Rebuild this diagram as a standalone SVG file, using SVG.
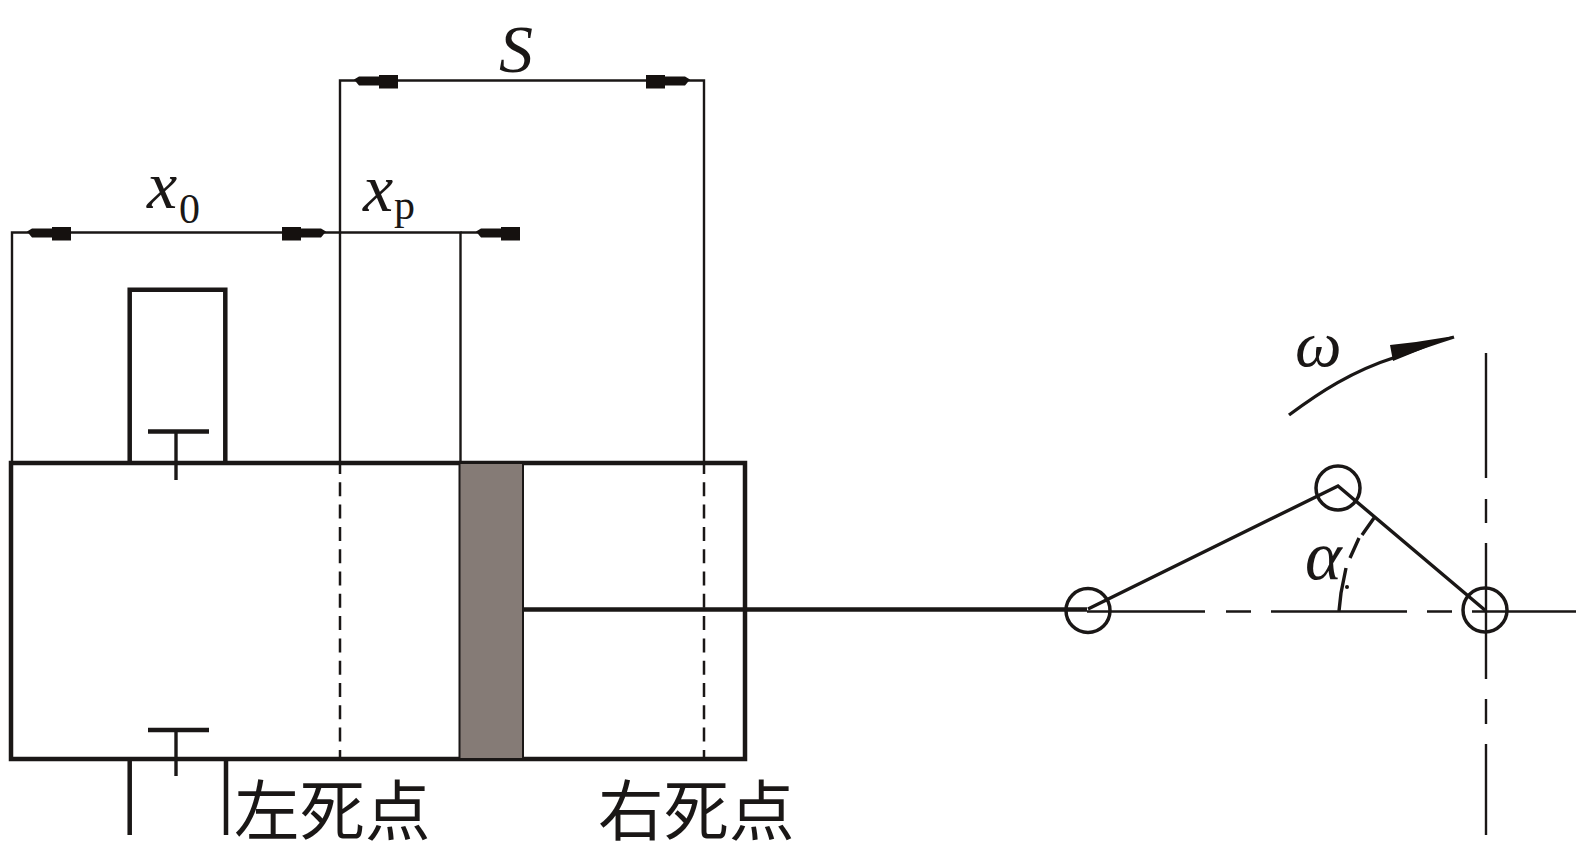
<svg xmlns="http://www.w3.org/2000/svg" width="1577" height="849" viewBox="0 0 1577 849">
<style>
.l{fill:none;stroke:#1a1716;stroke-width:2.400}
.m{fill:none;stroke:#1a1716;stroke-width:3.400}
.b{fill:none;stroke:#1a1716;stroke-width:4.500}
.d{fill:none;stroke:#1a1716;stroke-width:2.500;stroke-dasharray:14 8.300;stroke-dashoffset:3}
.c{fill:none;stroke:#1a1716;stroke-width:3.500}
.a{fill:#15110f}
.t{font-family:"Liberation Serif","Times New Roman",serif;fill:#1a1716}
.i{font-style:italic}
.z{font-family:"Liberation Serif","Noto Sans CJK SC",sans-serif;font-size:65.500px;fill:#1a1716}
</style>
<defs>
<path id="ar" d="M0 -1L5 -4H25V-5.500H44V8H25V5H5Z" class="a"/>
</defs>
<g id="cylinder">
<rect x="11" y="463" width="734" height="296" class="b"/>
</g>
<g id="piston">
<rect x="459.500" y="463" width="63.500" height="296" fill="#857b76" stroke="#1a1716" stroke-width="2"/>
</g>
<g id="top-port">
<path class="b" d="M129.700 463V289.700H225.300V463"/>
<path class="b" d="M148 431.500H209"/>
<path class="m" d="M176 431.500V480"/>
</g>
<g id="bottom-port">
<path class="b" d="M129.700 761V835M226 761V835"/>
<path class="b" d="M148 730H209"/>
<path class="m" d="M176 730V776"/>
</g>
<g id="connectors">
<path class="l" d="M12 463V232.500H460.500V463"/>
<path class="l" d="M460.500 232.500H500"/>
<path class="l" d="M340 463V80.500H704V463"/>
<path class="d" d="M340 463V759M704 463V759"/>
<path class="b" d="M523 609.500H1087"/>
<path class="l" d="M1087 611.500H1205M1226 611.500H1251M1271 611.500H1407M1427 611.500H1452M1472 611.500H1576"/>
<path class="l" d="M1486 353V478M1486 499V523M1486 543V679M1486 699V724M1486 744V835"/>
<path class="m" d="M1088 609L1338 486L1486 611"/>
<path class="m" d="M1339 611L1341 593L1346 568M1350 558L1359 538M1362 535L1374 518"/>
<circle cx="1347" cy="587" r="2" class="a"/>
<path class="m" d="M1289 415C1320 392 1352 371 1396 357C1415 350 1435 343 1454 337"/>
<path class="a" d="M1390 345L1416 342L1454 336L1420 350L1393 361Z"/>
<use href="#ar" transform="translate(354 80.500)"/>
<use href="#ar" transform="translate(690 80.500) scale(-1 1)"/>
<use href="#ar" transform="translate(27 232.500)"/>
<use href="#ar" transform="translate(326 232.500) scale(-1 1)"/>
<use href="#ar" transform="translate(476 232.500)"/>
</g>
<g id="joint-left"><circle class="c" cx="1088" cy="610.500" r="22"/></g>
<g id="joint-crank"><circle class="c" cx="1338" cy="488" r="22"/></g>
<g id="joint-center"><circle class="c" cx="1485" cy="610" r="22"/></g>
<g id="labels">
<text class="t i" x="499" y="72" font-size="68">S</text>
<text class="t i" x="147" y="208" font-size="68">x</text>
<text class="t" x="179" y="223" font-size="42">0</text>
<text class="t i" x="363" y="211" font-size="68">x</text>
<text class="t" x="394" y="219" font-size="42">p</text>
<text class="t i" x="1295" y="366" font-size="66">ω</text>
<text class="t i" x="1305" y="579" font-size="70">α</text>
<text class="z" x="234" y="835">左死点</text>
<text class="z" x="598" y="835">右死点</text>
</g>
</svg>
